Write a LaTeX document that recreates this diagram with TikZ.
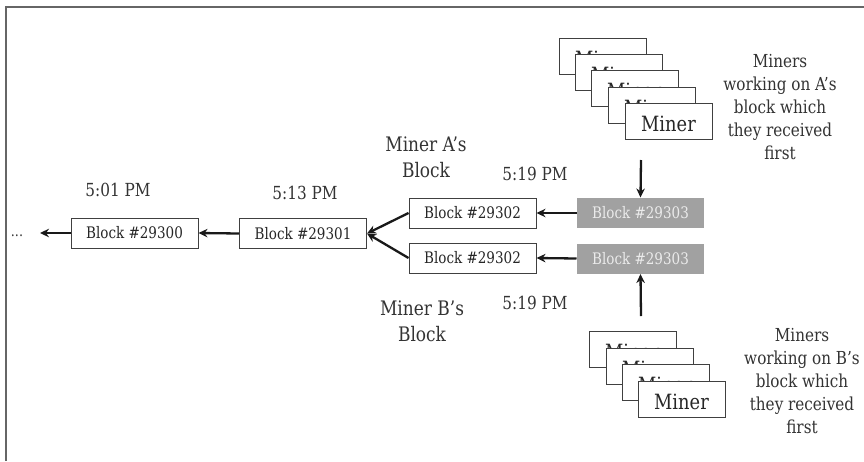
\documentclass[tikz,border=0pt]{standalone}
\usepackage{fontspec}
\setmainfont[FakeStretch=0.85]{DejaVu Serif}
\usetikzlibrary{arrows.meta}
\begin{document}
\begin{tikzpicture}[x=1pt,y=-1pt,
 blk/.style={draw=black!75, line width=1pt, minimum width=127pt, minimum height=30pt, inner sep=0pt, font=\fontsize{15.9}{17}\selectfont, fill=white, text=black!85},
 gblk/.style={blk, draw=none, fill=black!37, text=black!8},
 minerbox/.style={draw=black!75, line width=1pt, fill=white, minimum width=87pt, minimum height=36pt, inner sep=0pt, text height=20pt, text depth=0pt, font=\fontsize{21}{24}\selectfont, text=black!85},
 arr/.style={-{Stealth[length=9pt,width=8.5pt]}, line width=2.3pt, black!90},
 lbl/.style={font=\fontsize{18}{20}\selectfont, text=black!80},
 mlbl/.style={align=center, font=\fontsize{20}{26}\selectfont, text=black!80},
 side/.style={align=center, font=\fontsize{17.9}{23}\selectfont, text=black!80}]
\useasboundingbox (0,0) rectangle (864,461);
\draw[line width=2pt, black!60] (6,461) -- (6,7) -- (864,7);

% chain
\node[blk] (b0) at (134.5,233) {Block \#29300};
\node[blk] (b1) at (303,233.5) {Block \#29301};
\node[blk] (a2) at (472.5,213) {Block \#29302};
\node[blk] (c2) at (472.5,258) {Block \#29302};
\node[gblk] (a3) at (640.5,213) {Block \#29303};
\node[gblk] (c3) at (640.5,258.5) {Block \#29303};

\node[font=\fontsize{15}{16}\selectfont, text=black!80] (dots) at (17,236) {...};
\coordinate (tail) at (40,233);

\draw[arr] (b0.west) -- (tail);
\draw[arr] (b1.west) -- (b0.east);
\draw[arr] (a2.west) -- (b1.east);
\draw[arr] (c2.west) -- (b1.east);
\draw[arr] (a3.west) -- (a2.east);
\draw[arr] (c3.west) -- (c2.east);

% labels
\node[lbl] (t0) at (118,190) {5:01 PM};
\node[lbl] (t1) at (305,193) {5:13 PM};
\node[lbl] (t2) at (535,174) {5:19 PM};
\node[lbl] (t3) at (535,303) {5:19 PM};
\node[mlbl] (ma) at (426,157) {Miner A’s\\Block};
\node[mlbl] (mb) at (422,321) {Miner B’s\\Block};

% top miners
\node[minerbox] (ta1) at (602.5,56) {Miner};
\node[minerbox] (ta2) at (618.5,72) {Miner};
\node[minerbox] (ta3) at (634.5,88.5) {Miner};
\node[minerbox] (ta4) at (651.5,105) {Miner};
\node[minerbox] (ta5) at (668.5,121) {Miner};
\node[side] (sa) at (780,107) {Miners\\working on A’s\\block which\\they received\\first};

% bottom miners
\node[minerbox] (bm1) at (632.5,349.5) {Miner};
\node[minerbox] (bm2) at (649.5,366.5) {Miner};
\node[minerbox] (bm3) at (665.5,382.5) {Miner};
\node[minerbox] (bm4) at (681.5,399.5) {Miner};
\node[side] (sb) at (802,381) {Miners\\working on B’s\\block which\\they received\\first};

\coordinate (ua) at (641,160);
\coordinate (ub) at (641,316);
\draw[arr] (ua) -- (a3.north);
\draw[arr] (ub) -- (c3.south);
\end{tikzpicture}
\end{document}
